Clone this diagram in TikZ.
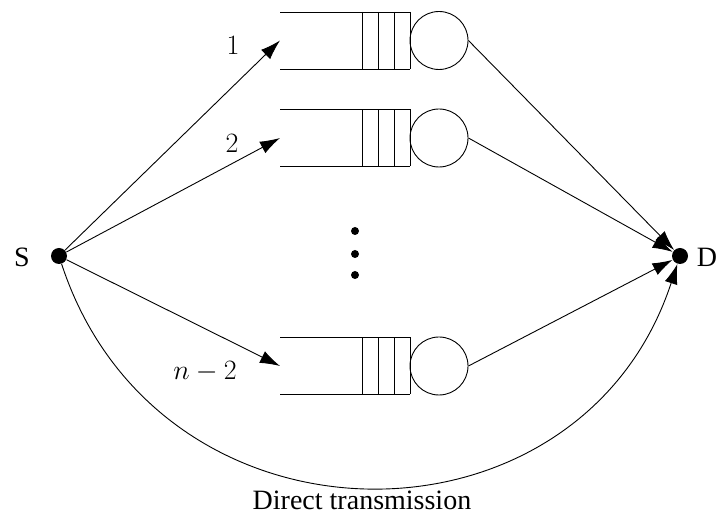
\RequirePackage{fix-cm}
\documentclass[tikz,border=0pt]{standalone}
\usepackage[no-math]{fontspec}
\setmainfont{Liberation Serif}
\usetikzlibrary{arrows.meta}
\begin{document}
\begin{tikzpicture}[x=1pt,y=-1pt,line width=0.9pt,
  every node/.style={font=\fontsize{28}{32}\selectfont},
  arr/.style={-{Latex[length=20pt,width=13pt]}},
  dotnode/.style={circle,fill=black,inner sep=0pt,minimum size=16pt},
  server/.style={circle,draw,inner sep=0pt,minimum size=58pt},
  smalldot/.style={circle,fill=black,inner sep=0pt,minimum size=8pt}]
\useasboundingbox (0,0) rectangle (716,518);
\node[dotnode] (S) at (59,256) {};
\node[dotnode] (D) at (680,256) {};
\node (Sl) at (22,257) {S};
\node (Dl) at (707,257) {D};
\foreach \i/\y in {1/40.5,2/138,3/366}{
  \coordinate (in\i) at (280,\y);
  \draw (280,\y-28.5) -- (410,\y-28.5) (280,\y+28.5) -- (410,\y+28.5);
  \foreach \x in {362,378,394,410} \draw (\x,\y-28.5) -- (\x,\y+28.5);
  \node[server] (c\i) at (439,\y) {};
}
\draw[arr] (S) -- (in1);
\draw[arr] (S) -- (in2);
\draw[arr] (S) -- (in3);
\draw[arr] (c1.east) -- (D);
\draw[arr] (c2.east) -- (D);
\draw[arr] (c3.east) -- (D);
\draw[arr] (S) .. controls (159,561) and (580,561) .. (D);
\node (l1) at (233,45) {$1$};
\node (l2) at (232,143) {$2$};
\node (l3) at (205,372) {$n-2$};
\node[smalldot] (d1) at (355,231) {};
\node[smalldot] (d2) at (355,254) {};
\node[smalldot] (d3) at (355,275) {};
\node (dt) at (362,500) {Direct transmission};
\end{tikzpicture}
\end{document}
